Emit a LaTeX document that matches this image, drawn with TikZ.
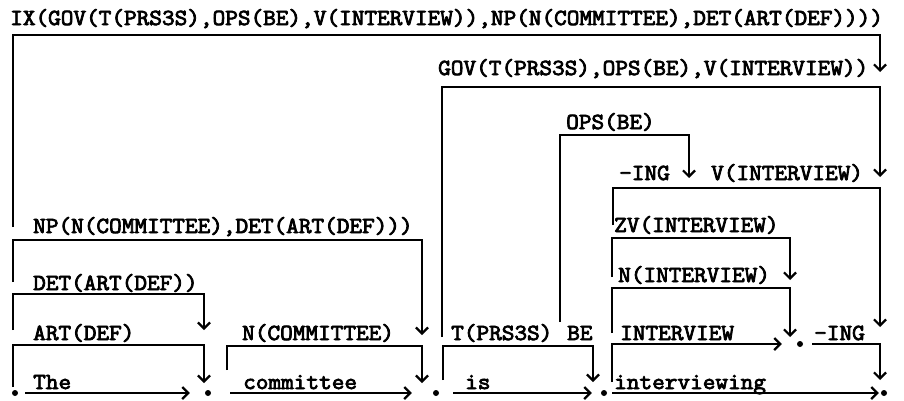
\documentclass[tikz,border=0pt]{standalone}
\usepackage{fontspec}
\newfontfamily\twfont{Latin Modern Mono}[AutoFakeBold=3.5,FakeStretch=1.068]
\usetikzlibrary{arrows.meta}
\newcommand\typefont{\twfont\bfseries\fontsize{23}{26}\selectfont}
\tikzset{
  lbl/.style={anchor=base west, inner sep=0pt, font=\typefont},
  ln/.style={line width=2.2pt, line cap=butt, line join=miter},
  arr/.style={ln, -{Straight Barb[length=6pt,width=12pt]}},
  vtx/.style={circle, fill=black, inner sep=0pt, minimum size=6pt},
}
\begin{document}
\begin{tikzpicture}[x=1pt,y=-1pt]
\useasboundingbox[fill=white] (0,0) rectangle (904,400);

% vertices
\node[vtx] (v0) at (15,393) {};
\node[vtx] (v1) at (208,393) {};
\node[vtx] (v2) at (436,393) {};
\node[vtx] (v3) at (604,393) {};
\node[vtx] (v4) at (884,393) {};
\node[vtx] (vm) at (800,344) {};

% labels
\node[lbl] (tIX)   at (10,25)  {IX(GOV(T(PRS3S),OPS(BE),V(INTERVIEW)),NP(N(COMMITTEE),DET(ART(DEF))))};
\node[lbl] (tGOV)  at (438,75) {GOV(T(PRS3S),OPS(BE),V(INTERVIEW))};
\node[lbl] (tOPS)  at (566,129) {OPS(BE)};
\node[lbl] (tINGa) at (619,180) {-ING};
\node[lbl] (tV)    at (711,180) {V(INTERVIEW)};
\node[lbl] (tNP)   at (33,233) {NP(N(COMMITTEE),DET(ART(DEF)))};
\node[lbl] (tZV)   at (614,232) {ZV(INTERVIEW)};
\node[lbl] (tNI)   at (618,282) {N(INTERVIEW)};
\node[lbl] (tDET)  at (33,290) {DET(ART(DEF))};
\node[lbl] (tART)  at (33,340) {ART(DEF)};
\node[lbl] (tNC)   at (242,340) {N(COMMITTEE)};
\node[lbl] (tT)    at (451,340) {T(PRS3S)};
\node[lbl] (tBE)   at (567,340) {BE};
\node[lbl] (tINT)  at (620,340) {INTERVIEW};
\node[lbl] (tINGb) at (814,340) {-ING};
\node[lbl] (wThe)  at (33,389) {The};
\node[lbl] (wCom)  at (243,389) {committee};
\node[lbl] (wIs)   at (465,389) {is};
\node[lbl] (wInt)  at (614,389) {interviewing};

% bracket corner coordinates
\coordinate (ixA) at (13,227);  \coordinate (ixB) at (880,35);  \coordinate (ixC) at (880,72);
\coordinate (govA) at (442,337); \coordinate (govB) at (880,87); \coordinate (govC) at (880,177);
\coordinate (opsA) at (560,322); \coordinate (opsB) at (689,135); \coordinate (opsC) at (689,178);
\coordinate (vA) at (613,225);  \coordinate (vB) at (880,188);  \coordinate (vC) at (880,327);
\coordinate (npA) at (13,282);  \coordinate (npB) at (422,240); \coordinate (npC) at (422,335);
\coordinate (detA) at (13,330); \coordinate (detB) at (204,294); \coordinate (detC) at (204,330);
\coordinate (artA) at (13,387); \coordinate (artB) at (204,345); \coordinate (artC) at (204,383);
\coordinate (ncA) at (227,370); \coordinate (ncB) at (422,346); \coordinate (ncC) at (422,383);
\coordinate (tA) at (443,380);  \coordinate (tB) at (593,346);  \coordinate (tC) at (593,382);
\coordinate (zvA) at (612,277); \coordinate (zvB) at (790,238); \coordinate (zvC) at (790,280);
\coordinate (niA) at (612,333); \coordinate (niB) at (790,288); \coordinate (niC) at (790,337);
\coordinate (inA) at (612,382);
\coordinate (ingB) at (880,344); \coordinate (ingC) at (880,380);

% brackets
\draw[arr] (ixA) |- (ixB) -- (ixC);
\draw[arr] (govA) |- (govB) -- (govC);
\draw[arr] (opsA) |- (opsB) -- (opsC);
\draw[arr] (vA) |- (vB) -- (vC);
\draw[arr] (npA) |- (npB) -- (npC);
\draw[arr] (detA) |- (detB) -- (detC);
\draw[arr] (artA) |- (artB) -- (artC);
\draw[arr] (ncA) |- (ncB) -- (ncC);
\draw[arr] (tA) |- (tB) -- (tC);
\draw[arr] (zvA) |- (zvB) -- (zvC);
\draw[arr] (niA) |- (niB) -- (niC);
\draw[arr, shorten >=15pt] (inA) |- (vm);
\draw[arr, shorten <=9pt] (vm) -- (ingB) -- (ingC);

% word edges
\draw[arr, shorten <=7pt, shorten >=15pt] (v0) -- (v1);
\draw[arr, shorten <=19pt, shorten >=21pt] (v1) -- (v2);
\draw[arr, shorten <=14pt, shorten >=9pt] (v2) -- (v3);
\draw[arr, shorten <=5pt, shorten >=2pt] (v3) -- (v4);
\end{tikzpicture}
\end{document}
